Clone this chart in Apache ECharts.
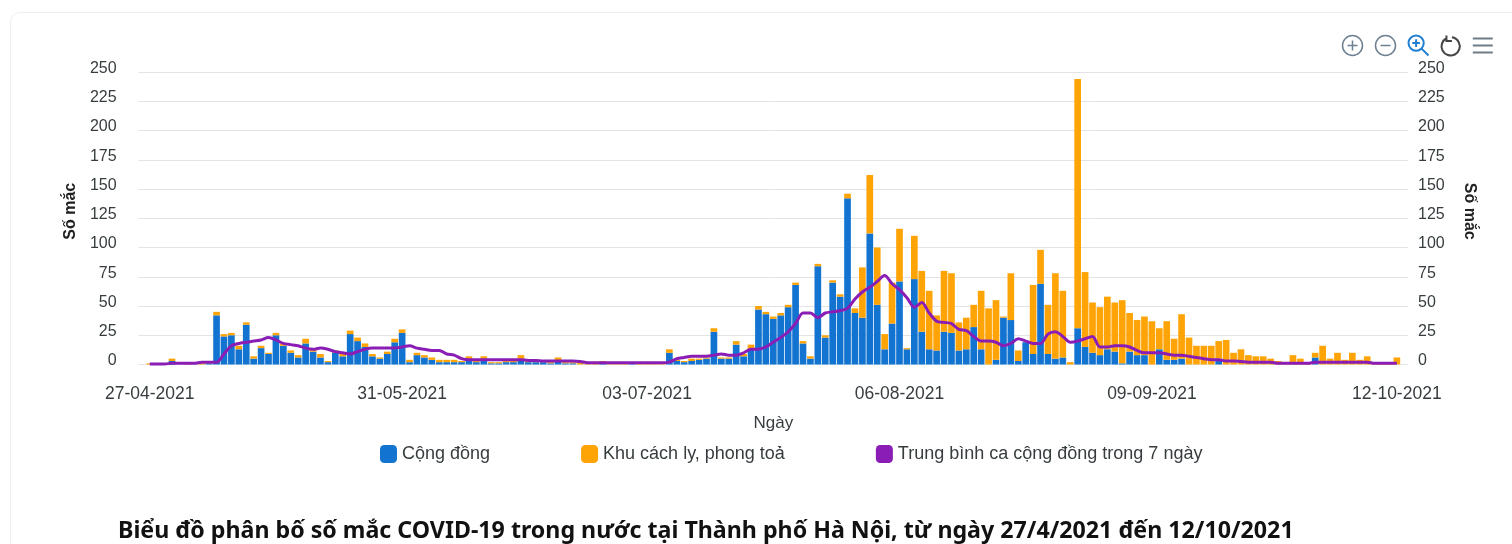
<!DOCTYPE html>
<html>
<head>
<meta charset="utf-8">
<style>
    html, body { margin: 0; padding: 0; background: #fff; overflow: hidden; }
    /* khung the bao quanh bieu do */
    .card { position: absolute; left: 10px; top: 12px; width: 1600px; height: 700px; border: 1px solid #eee; border-radius: 10px; }
    #chart { position: absolute; left: 0; top: 0; width: 1512px; height: 544px; }
</style>
</head>
<body>
<div class="card"></div>
<div id="chart"></div>
<script src="https://cdn.jsdelivr.net/npm/echarts@6/dist/echarts.min.js"></script>
<script>
const tieuDe = 'Biểu đồ phân bố số mắc COVID-19 trong nước tại Thành phố Hà Nội, từ ngày 27/4/2021 đến 12/10/2021';
const tenCongDong = 'Cộng đồng';
const tenCachLy = 'Khu cách ly, phong toả';
const tenTrungBinh = 'Trung bình ca cộng đồng trong 7 ngày';

const days = [
    '27-04-2021','28-04-2021','29-04-2021','30-04-2021',
    '01-05-2021','02-05-2021','03-05-2021','04-05-2021','05-05-2021','06-05-2021','07-05-2021','08-05-2021','09-05-2021','10-05-2021',
    '11-05-2021','12-05-2021','13-05-2021','14-05-2021','15-05-2021','16-05-2021','17-05-2021','18-05-2021','19-05-2021','20-05-2021',
    '21-05-2021','22-05-2021','23-05-2021','24-05-2021','25-05-2021','26-05-2021','27-05-2021','28-05-2021','29-05-2021','30-05-2021','31-05-2021',
    '01-06-2021','02-06-2021','03-06-2021','04-06-2021','05-06-2021','06-06-2021','07-06-2021','08-06-2021','09-06-2021','10-06-2021',
    '11-06-2021','12-06-2021','13-06-2021','14-06-2021','15-06-2021','16-06-2021','17-06-2021','18-06-2021','19-06-2021','20-06-2021',
    '21-06-2021','22-06-2021','23-06-2021','24-06-2021','25-06-2021','26-06-2021','27-06-2021','28-06-2021','29-06-2021','30-06-2021',
    '01-07-2021','02-07-2021','03-07-2021','04-07-2021','05-07-2021','06-07-2021','07-07-2021','08-07-2021','09-07-2021','10-07-2021',
    '11-07-2021','12-07-2021','13-07-2021','14-07-2021','15-07-2021','16-07-2021','17-07-2021','18-07-2021','19-07-2021','20-07-2021',
    '21-07-2021','22-07-2021','23-07-2021','24-07-2021','25-07-2021','26-07-2021','27-07-2021','28-07-2021','29-07-2021','30-07-2021','31-07-2021',
    '01-08-2021','02-08-2021','03-08-2021','04-08-2021','05-08-2021','06-08-2021','07-08-2021','08-08-2021','09-08-2021','10-08-2021',
    '11-08-2021','12-08-2021','13-08-2021','14-08-2021','15-08-2021','16-08-2021','17-08-2021','18-08-2021','19-08-2021','20-08-2021',
    '21-08-2021','22-08-2021','23-08-2021','24-08-2021','25-08-2021','26-08-2021','27-08-2021','28-08-2021','29-08-2021','30-08-2021','31-08-2021',
    '01-09-2021','02-09-2021','03-09-2021','04-09-2021','05-09-2021','06-09-2021','07-09-2021','08-09-2021','09-09-2021','10-09-2021',
    '11-09-2021','12-09-2021','13-09-2021','14-09-2021','15-09-2021','16-09-2021','17-09-2021','18-09-2021','19-09-2021','20-09-2021',
    '21-09-2021','22-09-2021','23-09-2021','24-09-2021','25-09-2021','26-09-2021','27-09-2021','28-09-2021','29-09-2021','30-09-2021',
    '01-10-2021','02-10-2021','03-10-2021','04-10-2021','05-10-2021','06-10-2021','07-10-2021','08-10-2021','09-10-2021','10-10-2021','11-10-2021','12-10-2021'
];
const tickLabels = ['27-04-2021', '31-05-2021', '03-07-2021', '06-08-2021', '09-09-2021', '12-10-2021'];

// moi hang 10 ngay
const congDong = [
    0,0,0,3,0,0,0,0,1,42,
    24,25,13,34,5,14,9,25,16,10,
    6,18,11,6,2,10,7,26,20,15,
    7,5,9,19,27,2,8,6,4,2,
    2,2,2,4,2,4,1,1,2,2,
    5,2,2,2,1,3,1,1,0,0,
    0,2,0,0,0,1,0,0,0,0,
    10,3,2,3,4,5,28,5,5,17,
    7,13,47,43,39,42,49,68,18,5,
    84,23,70,58,142,44,40,112,51,13,
    35,71,13,73,28,13,12,28,27,12,
    13,32,13,0,4,40,38,3,19,9,
    69,9,5,6,0,31,15,10,8,13,
    11,1,11,8,8,0,13,4,4,5,
    0,0,0,0,5,0,0,0,0,0,
    0,0,0,0,0,0,0,6,0,0,
    0,0,0,0,0,0,0,0,0
];
const cachLy = [
    1,0,0,2,0,1,0,1,1,3,
    2,2,3,2,2,2,1,2,2,2,
    2,4,2,3,1,2,2,3,3,3,
    2,1,2,3,3,2,2,2,2,2,
    2,2,1,3,2,3,1,1,2,2,
    3,2,1,1,1,3,1,1,2,1,
    1,1,1,1,1,1,1,1,1,1,
    3,1,1,2,1,1,3,1,1,3,
    2,4,3,2,2,2,2,2,2,2,
    2,2,2,2,4,4,43,50,49,13,
    35,45,1,37,52,50,30,52,51,24,
    27,19,50,48,51,1,40,9,0,59,
    29,42,73,57,2,213,64,43,41,45,
    42,54,33,30,33,37,18,33,18,38,
    23,16,16,16,15,21,10,13,8,7,
    7,5,3,2,8,5,1,4,16,5,
    10,4,10,4,7,2,2,2,6
];
const trungBinh = [
    0.5,0.5,0.5,1,1,1,1,2,2,2,
    9,16,18,19,20,21,23,21,18,17,
    16,14,13,14,13,11,10,9,11,13,
    14,14,14,14,15,16,14,13,12,12,
    9,8,5,4,4,4,4,4,4,4,
    4,3.5,3.5,3,3,3,3,3,2.5,1.5,
    1.5,1.5,1.5,1.5,1.5,1.5,1.5,1.5,1.5,1.5,
    2,5,6,7,7,7,8,9,8,8,
    10,13,13,15,19,23,28,35,44,44,
    40,44,45,46,48,56,62,66,71,76,
    69,64,57,49,53,44,37,36,35,30,
    29,24,20,20,19,16,18,22,20,18,
    18,26,28,24,19,20,22,24,15,15,
    16,16,15,12,10,10,10,9,8,8,
    7,6,5,4,4,3,3,2.5,2,2,
    2,2,1,1,1,1,1,2,2,2,
    2,2,2,2,2,1,1,1,1
];

const mauChu = '#373d3f';
const fontAxis = '"Liberation Sans", Arial, sans-serif';

// them mot o trong o hai dau de duong luoi dai hon cot
function dem(arr, blank) {
    return [blank].concat(arr, [blank]);
}
function coNhan(index, value) {
    return tickLabels.indexOf(value) > -1;
}
// truc y hai ben giong nhau
function trucY(position, margin, nameGap, nameRotate, namePadding) {
    return {
        type: 'value',
        position: position,
        min: 0,
        max: 250,
        interval: 25,
        name: 'Số mắc',
        nameLocation: 'middle',
        nameGap: nameGap,
        nameRotate: nameRotate,
        nameTextStyle: { color: '#222', fontFamily: fontAxis, fontSize: 16, fontWeight: 'bold', padding: namePadding },
        axisLine: { show: false },
        axisTick: { show: false },
        // nhan cao hon duong luoi mot chut
        axisLabel: { color: mauChu, fontFamily: fontAxis, fontSize: 16, margin: margin, verticalAlign: 'bottom', lineHeight: 7 },
        splitLine: { show: position === 'left', lineStyle: { color: '#e3e3e3', width: 1 } }
    };
}

const myChart = echarts.init(document.getElementById('chart'));
myChart.setOption({
    animation: false,
    title: {
        text: tieuDe,
        left: 113,
        top: 515,
        textStyle: { color: '#111', fontFamily: '"Noto Sans", sans-serif', fontSize: 23.2, fontWeight: 'bold' }
    },
    legend: {
        left: 375,
        top: 440,
        icon: 'roundRect',
        itemWidth: 17,
        itemHeight: 18,
        itemGap: 91,
        textStyle: { color: mauChu, fontFamily: fontAxis, fontSize: 18 },
        data: [tenCongDong, tenCachLy, tenTrungBinh]
    },
    toolbox: {
        left: 1325,
        top: 18,
        itemSize: 20,
        itemGap: 8,
        iconStyle: { color: 'none', borderColor: '#6e8192', borderWidth: 1.5 },
        emphasis: { iconStyle: { borderColor: '#333' } },
        feature: {
            myZoomIn: { show: true, title: 'Phóng to', icon: 'path://M12 2a10 10 0 1 0 0.01 0zM12 7v10M7 12h10', onclick: function () {} },
            myZoomOut: { show: true, title: 'Thu nhỏ', icon: 'path://M12 2a10 10 0 1 0 0.01 0zM7 12h10', onclick: function () {} },
            myZoom: { show: true, title: 'Chọn vùng', icon: 'path://M10 2a8 8 0 1 0 0.01 0zM16 16l7 7M10 6v8M6 10h8', iconStyle: { borderColor: '#1f7fd0', borderWidth: 2 }, onclick: function () {} },
            myReset: { show: true, title: 'Đặt lại', icon: 'path://M7 4a10 10 0 1 0 6 -1M7 1v6h6', iconStyle: { borderColor: '#444', borderWidth: 2 }, onclick: function () {} },
            myMenu: { show: true, title: 'Menu', icon: 'path://M2 5h20M2 12h20M2 19h20', iconStyle: { borderColor: '#6e7c88', borderWidth: 2 }, onclick: function () {} }
        }
    },
    grid: { left: 138.6, right: 104, top: 72, bottom: 179.5, containLabel: false },
    xAxis: {
        type: 'category',
        data: dem(days, ''),
        name: 'Ngày',
        nameLocation: 'middle',
        nameGap: 50,
        nameTextStyle: { color: mauChu, fontFamily: fontAxis, fontSize: 17 },
        axisLine: { lineStyle: { color: '#dfe6ee' } },
        axisTick: { alignWithLabel: true, length: 4, interval: coNhan, lineStyle: { color: '#cfd8dc' } },
        axisLabel: { color: mauChu, fontFamily: fontAxis, fontSize: 17.5, margin: 21, interval: coNhan, showMinLabel: true, showMaxLabel: true, hideOverlap: false }
    },
    yAxis: [trucY('left', 22, 60, 90, [0, 0, 0, 14]), trucY('right', 10, 53, -90, [0, 14, 0, 0])],
    series: [
        {
            name: tenCongDong,
            type: 'bar',
            stack: 'ca',
            barCategoryGap: '10%',
            itemStyle: { color: '#1273d0' },
            data: dem(congDong, null)
        },
        {
            name: tenCachLy,
            type: 'bar',
            stack: 'ca',
            itemStyle: { color: '#ffa407' },
            data: dem(cachLy, null)
        },
        {
            name: tenTrungBinh,
            type: 'line',
            smooth: 0.3,
            symbol: 'none',
            lineStyle: { color: '#8a1db5', width: 3 },
            itemStyle: { color: '#8a1db5' },
            data: dem(trungBinh, null)
        }
    ]
});
</script>
</body>
</html>
